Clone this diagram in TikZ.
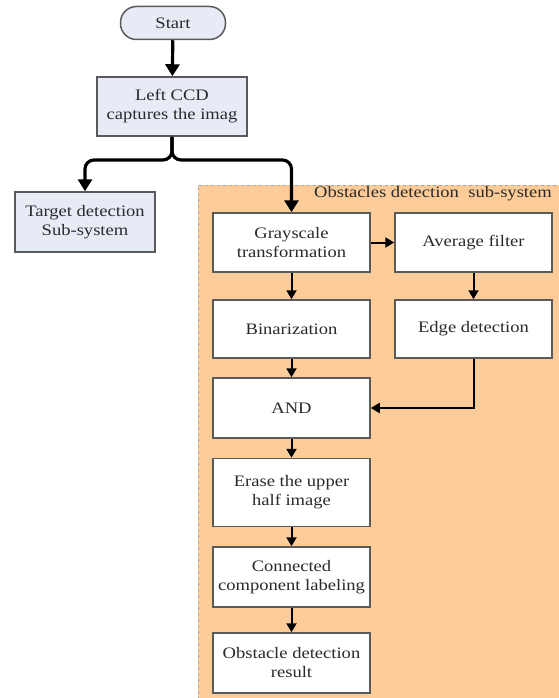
\documentclass[tikz,border=0pt]{standalone}
\usepackage{fontspec}
\setmainfont[FakeStretch=1.16]{Liberation Serif}
\usetikzlibrary{arrows.meta}
\definecolor{boxblue}{HTML}{E7EBF6}
\definecolor{regionfill}{HTML}{FDCC98}
\definecolor{edgegray}{HTML}{5A5A5A}
\definecolor{inkgray}{HTML}{2A2A2A}
\tikzset{
  every node/.style={font=\fontsize{16}{19}\selectfont, align=center, inner sep=0pt, text=inkgray},
  bluebox/.style={draw=edgegray, line width=1.5pt, fill=boxblue},
  whitebox/.style={draw=edgegray, line width=1.5pt, fill=white, minimum width=157pt},
  mainflow/.style={line width=3.2pt, -{Triangle[length=12pt,width=14pt]}},
  subflow/.style={line width=2pt, -{Triangle[length=9pt,width=10pt]}},
}
\begin{document}
\begin{tikzpicture}[x=1pt, y=-1pt]
  \useasboundingbox (0,0) rectangle (558,698);
  % sub-system region
  \fill[regionfill] (198,185) rectangle (560,700);
  \draw[gray!70, dashed, line width=0.8pt] (198,700) -- (198,185) -- (560,185);
  \node[anchor=east] (title) at (552,194) {Obstacles detection\ \ sub-system};

  % upper part
  \node[bluebox, rounded corners=16pt, minimum width=105pt, minimum height=33pt] (start) at (173,23) {Start};
  \node[bluebox, minimum width=150pt, minimum height=59pt] (ccd) at (172,106.5) {Left CCD\\captures the imag};
  \node[bluebox, minimum width=140pt, minimum height=60pt] (target) at (85,222) {Target detection\\Sub-system};
  \coordinate (fork) at (172,160);

  % obstacle pipeline
  \node[whitebox, minimum height=59pt] (gray) at (291.5,242.5) {Grayscale\\transformation};
  \node[whitebox, minimum height=59pt] (avg) at (473.5,242.5) {Average filter};
  \node[whitebox, minimum height=58pt] (bin) at (291.5,329) {Binarization};
  \node[whitebox, minimum height=58pt] (edge) at (473.5,329) {Edge detection};
  \node[whitebox, minimum height=60pt] (and) at (291.5,408) {AND};
  \node[whitebox, minimum height=68pt] (erase) at (291.5,492.5) {Erase the upper\\half image};
  \node[whitebox, minimum height=60pt] (conn) at (291.5,577) {Connected\\component labeling};
  \node[whitebox, minimum height=60pt] (result) at (291.5,663) {Obstacle detection\\result};

  % connectors
  \draw[mainflow] (start) -- (ccd);
  \draw[mainflow, rounded corners=9pt] (ccd.south) -- (fork) -| (target.north);
  \draw[mainflow, rounded corners=9pt] (ccd.south) -- (fork) -| (gray.north);
  \draw[subflow] (gray) -- (avg);
  \draw[subflow] (gray) -- (bin);
  \draw[subflow] (avg) -- (edge);
  \draw[subflow] (bin) -- (and);
  \draw[subflow] (edge.south) |- (and.east);
  \draw[subflow] (and) -- (erase);
  \draw[subflow] (erase) -- (conn);
  \draw[subflow] (conn) -- (result);
\end{tikzpicture}
\end{document}
